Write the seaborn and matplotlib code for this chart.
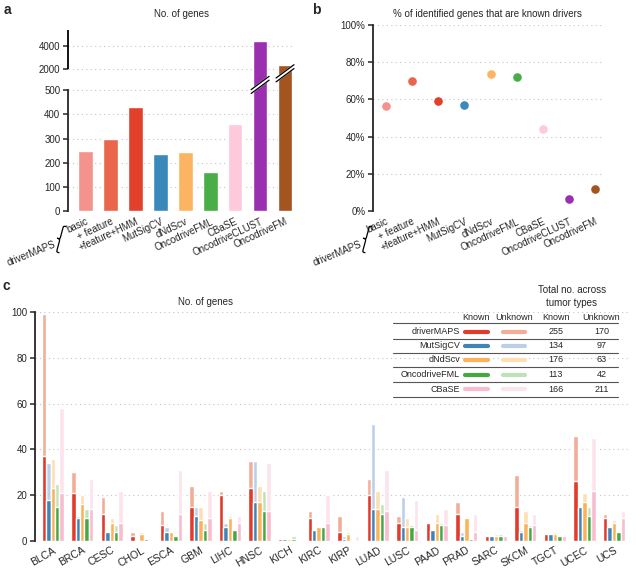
import numpy as np
import pandas as pd
import matplotlib
matplotlib.use('Agg')
import matplotlib.pyplot as plt
import matplotlib.transforms as mtransforms
from matplotlib.lines import Line2D
from matplotlib.path import Path
from matplotlib.patches import PathPatch
import seaborn as sns

# ---- data ----
methods_a = ['basic', '+ feature', '+feature+HMM', 'MutSigCV', 'dNdScv',
             'OncodriveFML', 'CBaSE', 'OncodriveCLUST', 'OncodriveFM']
genes_a = [250, 298, 431, 236, 245, 162, 361, 4450, 2320]
pct_known_b = [56.7, 69.8, 59.4, 57.1, 73.8, 72.2, 44.0, 6.6, 12.0]
colors_a = ['#F4928C', '#E9654B', '#E2402B', '#3B88BA', '#FDB462',
            '#49AE47', '#FDC9DB', '#9A2FB0', '#A3541F']

tumors = ['BLCA', 'BRCA', 'CESC', 'CHOL', 'ESCA', 'GBM', 'LIHC', 'HNSC', 'KICH', 'KIRC',
          'KIRP', 'LUAD', 'LUSC', 'PAAD', 'PRAD', 'SARC', 'SKCM', 'TGCT', 'UCEC', 'UCS']
methods_c = ['driverMAPS', 'MutSigCV', 'dNdScv', 'OncodriveFML', 'CBaSE']
dm_known = [37, 21, 12, 2, 7, 15, 20, 23, 1, 10, 4, 20, 8, 8, 12, 2, 15, 3, 26, 10]
dm_total = [99, 30, 19, 4, 13, 24, 22, 35, 1, 13, 11, 27, 11, 8, 17, 2, 29, 3, 46, 12]
ms_known = [18, 10, 4, 0, 4, 11, 6, 17, 1, 5, 1, 14, 6, 5, 2, 2, 4, 3, 15, 6]
ms_total = [34, 11, 4, 0, 6, 15, 8, 35, 1, 5, 2, 51, 19, 5, 4, 2, 5, 3, 15, 6]
dn_known = [23, 16, 8, 3, 4, 9, 10, 17, 1, 6, 3, 14, 6, 8, 10, 2, 8, 3, 17, 8]
dn_total = [36, 20, 10, 4, 4, 15, 11, 24, 1, 6, 4, 22, 10, 12, 10, 3, 13, 4, 21, 9]
fml_known = [15, 10, 4, 1, 2, 5, 5, 13, 1, 6, 0, 12, 6, 7, 1, 2, 6, 2, 11, 4]
fml_total = [25, 14, 7, 1, 2, 8, 5, 22, 2, 6, 0, 16, 7, 8, 1, 3, 7, 2, 15, 4]
cb_known = [21, 14, 8, 0, 12, 10, 8, 13, 0, 8, 0, 13, 5, 7, 4, 2, 7, 2, 22, 10]
cb_total = [58, 27, 22, 1, 31, 22, 11, 34, 0, 20, 2, 31, 18, 14, 12, 2, 12, 2, 45, 13]
total_known = [255, 134, 176, 113, 166]
total_unknown = [170, 97, 63, 42, 211]
known_colors = ['#E23A2B', '#3D85B8', '#FCB25C', '#44A943', '#F8BBD0']
unknown_colors = ['#F2AD99', '#BBCFE9', '#FDDFB3', '#BCE3B5', '#FDE3EC']

sns.set_style('ticks')
plt.rcParams['font.family'] = ['Liberation Sans', 'DejaVu Sans']
plt.rcParams['axes.linewidth'] = 1.3

fig = plt.figure(figsize=(6.36, 5.70), dpi=100)
W, H = 636, 570


def rect(l, t, r, b):
    return [l / W, 1 - b / H, (r - l) / W, (b - t) / H]


def fx(x, y):
    return x / W, 1 - y / H


GRID = dict(color='#c4c4c4', lw=0.8, ls=(0, (1, 3)), zorder=0.5)

# ---- panel a: broken y axis ----
GAP, UP = 88.0, 94.0


def fwd(v):
    v = np.asarray(v, float)
    return np.where(v <= 500, v,
                    np.where(v <= 2000, 500 + (v - 500) * GAP / 1500,
                             500 + GAP + (v - 2000) * UP / 2000))


def inv(t):
    t = np.asarray(t, float)
    return np.where(t <= 500, t,
                    np.where(t <= 500 + GAP, 500 + (t - 500) * 1500 / GAP,
                             2000 + (t - 500 - GAP) * 2000 / UP))


axa = fig.add_axes(rect(68, 30, 295, 211))
df_a = pd.DataFrame({'method': methods_a, 'genes': genes_a})
sns.barplot(data=df_a, x='method', y='genes', hue='method', palette=colors_a,
            width=0.58, saturation=1, legend=False, ax=axa)
axa.set_yscale('function', functions=(fwd, inv))
axa.set_ylim(0, 5430)
axa.set_xlim(-0.71, 8.4)
yt = [0, 100, 200, 300, 400, 500, 2000, 4000]
axa.set_yticks(yt)
axa.set_yticklabels([str(v) for v in yt])
axa.minorticks_off()
for v in yt[1:]:
    axa.axhline(v, **GRID)
for s in ['top', 'right', 'bottom']:
    axa.spines[s].set_visible(False)
axa.spines['left'].set_bounds(0, 500)
trans = mtransforms.blended_transform_factory(axa.transAxes, axa.transData)
axa.plot([0, 0], [2000, 5430], transform=trans, color='black', lw=1.3,
         clip_on=False, solid_capstyle='butt')


def draw_break(ax, xc, tc, half=0.36, rise=55, thick=16):
    xs = np.array([xc - half, xc + half])
    lo = np.array([tc - rise / 2 - thick / 2, tc + rise / 2 - thick / 2])
    hi = lo + thick
    ax.fill(np.r_[xs, xs[::-1]], inv(np.r_[lo, hi[::-1]]), color='white',
            zorder=5, clip_on=False)
    ax.plot(xs, inv(lo), color='black', lw=0.9, zorder=6, clip_on=False)
    ax.plot(xs, inv(hi), color='black', lw=0.9, zorder=6, clip_on=False)


draw_break(axa, 7, 522)
draw_break(axa, 8, 570)

axa.set_xticks(range(len(methods_a)))
axa.set_xticklabels(methods_a, rotation=25, ha='right', rotation_mode='anchor')
axa.tick_params(axis='x', length=0, pad=4, labelsize=7)
axa.tick_params(axis='y', length=3.5, width=1.1, labelsize=7, pad=2)
axa.set_xlabel('')
axa.set_ylabel('')

# ---- panel b ----
axb = fig.add_axes(rect(373, 25, 602, 211))
df_b = pd.DataFrame({'method': methods_a, 'pct': pct_known_b})
sns.stripplot(data=df_b, x='method', y='pct', hue='method', palette=colors_a,
              jitter=False, size=6.2, linewidth=0, legend=False, ax=axb, zorder=3)
axb.set_ylim(0, 100)
axb.set_xlim(-0.5, 8.27)
ytb = [0, 20, 40, 60, 80, 100]
axb.set_yticks(ytb)
axb.set_yticklabels([f'{v}%' for v in ytb])
for v in ytb[1:]:
    axb.axhline(v, **GRID)
for s in ['top', 'right', 'bottom']:
    axb.spines[s].set_visible(False)
axb.set_xticks(range(len(methods_a)))
axb.set_xticklabels(methods_a, rotation=25, ha='right', rotation_mode='anchor')
axb.tick_params(axis='x', length=0, pad=4, labelsize=7)
axb.tick_params(axis='y', length=3.5, width=1.1, labelsize=7, pad=2)
axb.set_xlabel('')
axb.set_ylabel('')


# driverMAPS braces (thin curly brace drawn as a path, pixel units)
def brace(cx, cy, h=27, w=6, angle=-15):
    verts = [(w, h / 2), (w / 2, h / 2), (w / 2, h / 2), (w / 2, h / 2 - w / 2),
             (w / 2, w / 2),
             (w / 2, 0), (w / 2, 0), (0, 0),
             (w / 2, 0), (w / 2, 0), (w / 2, -w / 2),
             (w / 2, -h / 2 + w / 2),
             (w / 2, -h / 2), (w / 2, -h / 2), (w, -h / 2)]
    codes = [Path.MOVETO, Path.CURVE4, Path.CURVE4, Path.CURVE4,
             Path.LINETO,
             Path.CURVE4, Path.CURVE4, Path.CURVE4,
             Path.CURVE4, Path.CURVE4, Path.CURVE4,
             Path.LINETO,
             Path.CURVE4, Path.CURVE4, Path.CURVE4]
    tr = (mtransforms.Affine2D().translate(-w / 2, 0).rotate_deg(angle)
          .translate(cx, H - cy).scale(1 / W, 1 / H) + fig.transFigure)
    fig.add_artist(PathPatch(Path(verts, codes), fill=False, lw=0.9,
                             edgecolor='black', transform=tr))


for dx in (0, 306):
    fig.text(*fx(55 + dx, 244), 'driverMAPS', rotation=22, ha='right', va='center',
             fontsize=7, rotation_mode='anchor')
    brace(60 + dx, 239)

# ---- panel c ----
axc = fig.add_axes(rect(35, 312, 630, 541))
rows = []
known_lists = [dm_known, ms_known, dn_known, fml_known, cb_known]
total_lists = [dm_total, ms_total, dn_total, fml_total, cb_total]
for m, kl, tl in zip(methods_c, known_lists, total_lists):
    for t, k, tot in zip(tumors, kl, tl):
        rows.append({'tumor': t, 'method': m, 'known': k, 'total': tot})
df_c = pd.DataFrame(rows)
sns.barplot(data=df_c, x='tumor', y='total', hue='method', hue_order=methods_c,
            order=tumors, palette=unknown_colors, width=0.75, saturation=1,
            errorbar=None, legend=False, ax=axc)
sns.barplot(data=df_c, x='tumor', y='known', hue='method', hue_order=methods_c,
            order=tumors, palette=known_colors, width=0.75, saturation=1,
            errorbar=None, legend=False, ax=axc)
axc.set_ylim(0, 100)
axc.set_xlim(-0.6, 19.54)
ytc = [0, 20, 40, 60, 80, 100]
axc.set_yticks(ytc)
for v in ytc[1:]:
    axc.axhline(v, **GRID)
for s in ['top', 'right', 'bottom']:
    axc.spines[s].set_visible(False)
axc.set_xticks(range(len(tumors)))
axc.set_xticklabels(tumors, rotation=30, ha='right', rotation_mode='anchor')
axc.tick_params(axis='x', length=0, pad=3, labelsize=7.5)
axc.tick_params(axis='y', length=3.5, width=1.1, labelsize=7, pad=2)
axc.set_xlabel('')
axc.set_ylabel('')

# table inset
fig.text(*fx(572, 290), 'Total no. across', ha='center', va='center', fontsize=7)
fig.text(*fx(572, 303), 'tumor types', ha='center', va='center', fontsize=7)
for x, lab in zip([476, 514, 556, 601], ['Known', 'Unknown', 'Known', 'Unknown']):
    fig.text(*fx(x, 317), lab, ha='center', va='center', fontsize=6.5)
row_y = [332, 346, 360, 374.5, 389]
line_y = [323, 339, 353, 367, 382, 397]
for ly in line_y:
    fig.add_artist(Line2D([393 / W, 618 / W], [1 - ly / H] * 2, color='#555555',
                          lw=0.8, transform=fig.transFigure))
for y, m, kc, uc, nk, nu in zip(row_y, methods_c, known_colors, unknown_colors,
                                total_known, total_unknown):
    fig.text(*fx(460, y), m, ha='right', va='center', fontsize=6.5)
    fig.add_artist(Line2D([465 / W, 488 / W], [1 - y / H] * 2, color=kc, lw=3,
                          transform=fig.transFigure))
    fig.add_artist(Line2D([503 / W, 525 / W], [1 - y / H] * 2, color=uc, lw=3,
                          transform=fig.transFigure))
    fig.text(*fx(556, y), str(nk), ha='center', va='center', fontsize=6.5)
    fig.text(*fx(602, y), str(nu), ha='center', va='center', fontsize=6.5)

# titles and panel letters
fig.text(*fx(181, 14), 'No. of genes', ha='center', va='center', fontsize=7)
fig.text(*fx(487, 14), '% of identified genes that are known drivers',
         ha='center', va='center', fontsize=7)
fig.text(*fx(205, 302), 'No. of genes', ha='center', va='center', fontsize=7)
fig.text(*fx(7, 10), 'a', ha='center', va='center', fontsize=10, fontweight='bold')
fig.text(*fx(316, 10), 'b', ha='center', va='center', fontsize=10, fontweight='bold')
fig.text(*fx(6, 286), 'c', ha='center', va='center', fontsize=10, fontweight='bold')

fig.savefig('out.png', dpi=100)
